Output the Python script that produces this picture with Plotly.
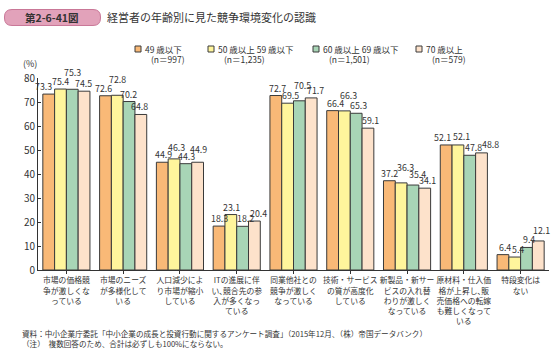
import plotly.graph_objects as go

categories = [
    "市場の価格競<br>争が激しくな<br>っている",
    "市場のニーズ<br>が多様化して<br>いる",
    "人口減少によ<br>り市場が縮小<br>している",
    "ITの進展に伴<br>い､競合先の参<br>入が多くなっ<br>ている",
    "同業他社との<br>競争が激しく<br>なっている",
    "技術・サービス<br>の質が高度化<br>している",
    "新製品・新サー<br>ビスの入れ替<br>わりが激しく<br>なっている",
    "原材料・仕入価<br>格が上昇し､販<br>売価格への転嫁<br>も難しくなって<br>いる",
    "特段変化は<br>ない",
]
series_names = ["49 歳以下", "50 歳以上 59 歳以下", "60 歳以上 69 歳以下", "70 歳以上"]
series_n = ["(n＝997)", "(n＝1,235)", "(n＝1,501)", "(n＝579)"]
v49 = [73.3, 72.6, 44.9, 18.3, 72.7, 66.4, 37.2, 52.1, 6.4]
v50 = [75.4, 72.8, 46.3, 23.1, 69.5, 66.3, 36.3, 52.1, 5.4]
v60 = [75.3, 70.2, 44.3, 18.2, 70.5, 65.3, 35.4, 47.8, 9.4]
v70 = [74.5, 64.8, 44.9, 20.4, 71.7, 59.1, 34.1, 48.8, 12.1]
values = [v49, v50, v60, v70]
colors = ["#F9B977", "#FFF59C", "#A8D5B6", "#FDE2CB"]
# manual label offsets (px) where the original staggers labels
raise_px = [
    [0, 0, 0, 0, 0, 0, 0, 0, 0],
    [0, 8, 4, 0, 0, 8, 8, 1, 0],
    [9, 0, 0, 0, 8, 0, 3, 0, 0],
    [0, 0, 5, 0, 0, 0, 0, 1, 3],
]
shift_px = [
    [-5, -2, 1, 0, 2, 3, 0, -4, 2],
    [0, 0, 2, 1, 3, 4, 4, 4, 3],
    [0, -1, 1, 3, 3, 2, 5, 4, 2],
    [-1, -1, 1, 4, 4, 3, 3, 9, 3],
]

bargap = 0.17
fig = go.Figure()
for i in range(4):
    fig.add_trace(go.Bar(
        x=list(range(len(categories))), y=values[i], name=series_names[i],
        marker=dict(color=colors[i], line=dict(color="#3a3a3a", width=1)),
        showlegend=False, cliponaxis=False,
    ))

annotations = []
bw = (1 - bargap) / 4
for i in range(4):
    for j, v in enumerate(values[i]):
        annotations.append(dict(
            x=j + (i - 1.5) * bw, y=v, xref="x", yref="y", text=f"{v:.1f}",
            showarrow=False, yanchor="bottom", yshift=raise_px[i][j] - 1,
            xshift=shift_px[i][j],
            font=dict(size=8.8, color="#333333"),
        ))

W, H = 556, 351
L, R, T, B = 38, 7, 78, 81
pw, ph = W - L - R, H - T - B

def px2paper(x, y):
    return (x - L) / pw, (H - B - y) / ph

def rounded(x0, y0, x1, y1, r):
    def p(x, y):
        a, b = px2paper(x, y)
        return f"{a:.5f},{b:.5f}"
    return (f"M{p(x0 + r, y0)} L{p(x1 - r, y0)} Q{p(x1, y0)} {p(x1, y0 + r)} "
            f"L{p(x1, y1 - r)} Q{p(x1, y1)} {p(x1 - r, y1)} L{p(x0 + r, y1)} "
            f"Q{p(x0, y1)} {p(x0, y1 - r)} L{p(x0, y0 + r)} Q{p(x0, y0)} {p(x0 + r, y0)} Z")

shapes = [dict(type="path", xref="paper", yref="paper",
               path=rounded(4.5, 9.5, 100.5, 25.5, 7.5),
               fillcolor="#E2A2BA", line=dict(color="#C97797", width=1))]

bx, by = px2paper(52, 17.5)
annotations.append(dict(x=bx, y=by, xref="paper", yref="paper", text="<b>第2-6-41図</b>",
                        showarrow=False, font=dict(size=10.5, color="#333333"),
                        xanchor="center", yanchor="middle"))
tx, ty = px2paper(105, 17.5)
annotations.append(dict(x=tx, y=ty, xref="paper", yref="paper",
                        text="経営者の年齢別に見た競争環境変化の認識",
                        showarrow=False, font=dict(size=11, color="#333333"),
                        xanchor="left", yanchor="middle"))

# legend
leg_x = [138, 211, 316, 419]
for i in range(4):
    sx0, sy0 = px2paper(leg_x[i] - 3, 46)
    sx1, sy1 = px2paper(leg_x[i] + 3, 52)
    shapes.append(dict(type="rect", xref="paper", yref="paper", x0=sx0, x1=sx1,
                       y0=sy1, y1=sy0, fillcolor=colors[i],
                       line=dict(color="#3a3a3a", width=1)))
    ax, ay = px2paper(leg_x[i] + 5, 49)
    annotations.append(dict(x=ax, y=ay, xref="paper", yref="paper", text=series_names[i],
                            showarrow=False, font=dict(size=8.5, color="#333333"),
                            xanchor="left", yanchor="middle"))
    nx, ny = px2paper(leg_x[i] + 11, 59)
    annotations.append(dict(x=nx, y=ny, xref="paper", yref="paper", text=series_n[i],
                            showarrow=False, font=dict(size=8.5, color="#333333"),
                            xanchor="left", yanchor="middle"))

# (%)
px_, py_ = px2paper(30, 64)
annotations.append(dict(x=px_, y=py_, xref="paper", yref="paper", text="(%)",
                        showarrow=False, font=dict(size=9, color="#333333"),
                        xanchor="center", yanchor="middle"))

# footnotes
f1x, f1y = px2paper(20, 333)
annotations.append(dict(x=f1x, y=f1y, xref="paper", yref="paper",
                        text="資料：中小企業庁委託「中小企業の成長と投資行動に関するアンケート調査」（2015年12月、（株）帝国データバンク）",
                        showarrow=False, font=dict(size=7.6, color="#333333"),
                        xanchor="left", yanchor="middle"))
f2x, f2y = px2paper(20, 343)
annotations.append(dict(x=f2x, y=f2y, xref="paper", yref="paper",
                        text="（注）　複数回答のため、合計は必ずしも100%にならない。",
                        showarrow=False, font=dict(size=7.6, color="#333333"),
                        xanchor="left", yanchor="middle"))

fig.update_layout(
    width=W, height=H, margin=dict(l=L, r=R, t=T, b=B),
    barmode="group", bargap=bargap, bargroupgap=0,
    plot_bgcolor="white", paper_bgcolor="white",
    font=dict(family="Noto Sans CJK JP", color="#333333"),
    annotations=annotations, shapes=shapes,
    xaxis=dict(
        tickmode="array", tickvals=list(range(len(categories))), ticktext=categories,
        range=[-0.5, len(categories) - 0.5],
        showline=True, linecolor="#333333", linewidth=1,
        ticks="outside", ticklen=3, tickcolor="#333333", tickson="boundaries",
        tickfont=dict(size=7.8, color="#333333"), tickangle=0, showgrid=False,
    ),
    yaxis=dict(
        range=[0, 80], tickvals=list(range(0, 81, 10)),
        showline=True, linecolor="#333333", linewidth=1,
        ticks="inside", ticklen=3, tickcolor="#333333",
        tickfont=dict(size=10, color="#333333"), showgrid=False, zeroline=False,
    ),
)

fig.write_html("out.html")
